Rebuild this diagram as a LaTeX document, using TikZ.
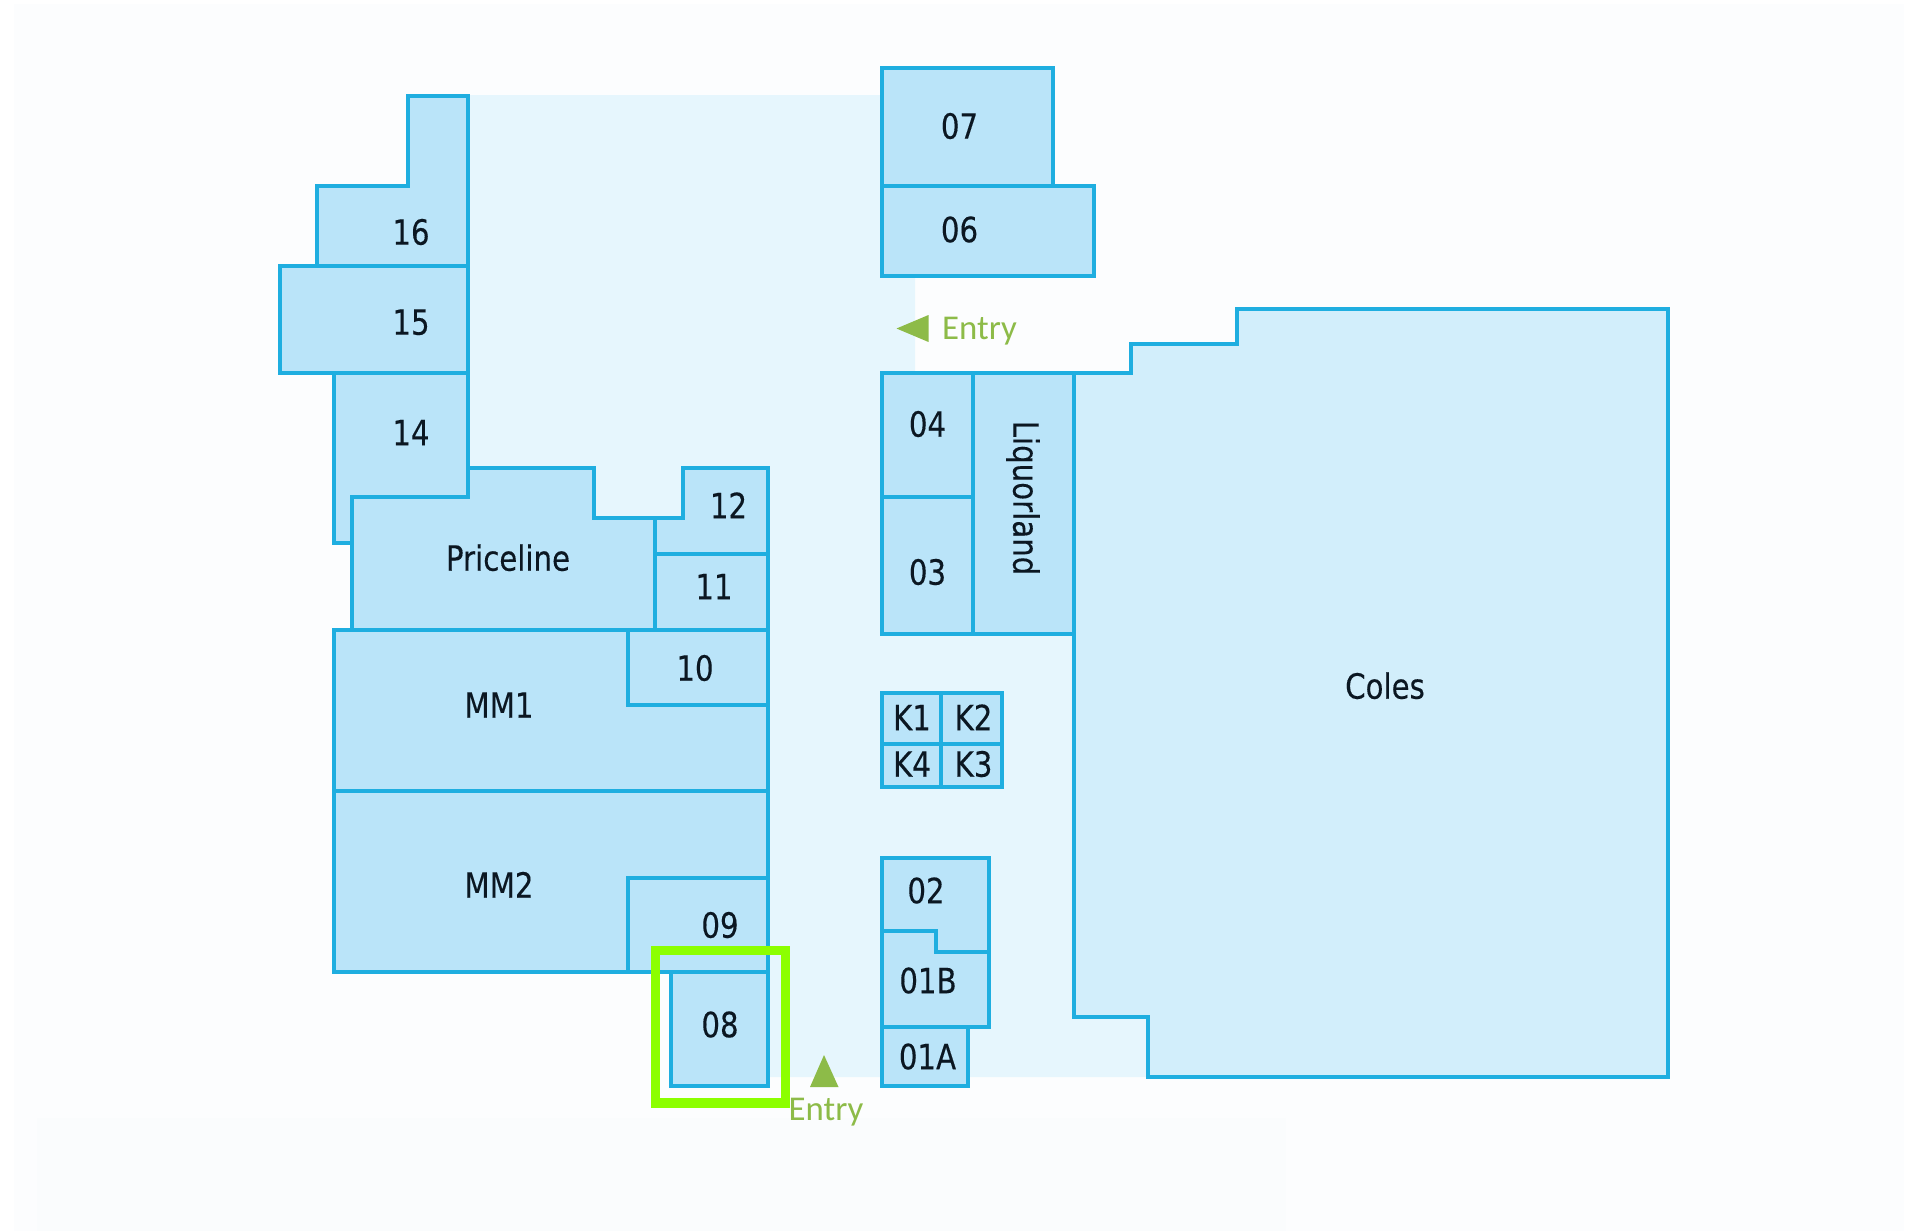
\documentclass[tikz,border=0pt]{standalone}
\usepackage{fontspec}
\setmainfont[FakeStretch=0.84,FakeBold=0.25]{DejaVu Sans}
\newfontfamily\entryfont{Carlito}
\usepackage{xcolor}
\definecolor{shopline}{HTML}{1FAEE0}
\definecolor{shopfill}{HTML}{BAE4F9}
\definecolor{colesfill}{HTML}{D2EEFB}
\definecolor{hallfill}{HTML}{E6F6FD}
\definecolor{pagefill}{HTML}{FCFDFE}
\definecolor{bandfill}{HTML}{FAFCFD}
\definecolor{entrygreen}{HTML}{8DBB48}
\definecolor{markgreen}{HTML}{8CFF00}
\definecolor{labelink}{HTML}{0B1722}

\begin{document}
\begin{tikzpicture}[x=0.5pt,y=-0.5pt,line width=2pt,line join=miter,
	shop/.style={draw=shopline,fill=shopfill},
	coles/.style={draw=shopline,fill=colesfill},
	lbl/.style={inner sep=0pt,text=labelink,text height=12.7pt,text depth=0pt,font=\fontsize{17.4}{17.4}\selectfont},
	entry/.style={inner sep=0pt,anchor=base,text=entrygreen,font=\entryfont\fontsize{17.4}{17.4}\selectfont}]
	\useasboundingbox (0,0) rectangle (1920,1231);
	\fill [white] (0,0) rectangle (1920,1231);
	\fill [pagefill] (14,4) rectangle (1904,1231);
	\fill [bandfill] (37,1118) rectangle (1286,1231);
	\fill [hallfill] (467,95) -- (881,95) -- (881,276) -- (915,276) -- (915,373) -- (1074,373) -- (1074,1017) -- (1148,1017) -- (1148,1077) -- (768,1077) -- (768,600) -- (467,600) -- cycle;

	\path [coles] (1074,373) -- (1131,373) -- (1131,344) -- (1237,344) -- (1237,309) -- (1668,309) -- (1668,1077) -- (1148,1077) -- (1148,1017) -- (1074,1017) -- cycle;

	% west side
	\path [shop] (408,96) -- (467.5,96) -- (467.5,265.5) -- (317,265.5) -- (317,185.5) -- (408,185.5) -- cycle;
	\path [shop] (279.5,265.5) rectangle (467.5,373);
	\path [shop] (334,373) -- (467.5,373) -- (467.5,497) -- (352,497) -- (352,543) -- (334,543) -- cycle;
	\path [shop] (352,497) -- (467.5,497) -- (467.5,467.5) -- (594,467.5) -- (594,518) -- (655,518) -- (655,630) -- (352,630) -- cycle;
	\path [shop] (683,467.5) -- (767.5,467.5) -- (767.5,553.5) -- (655,553.5) -- (655,518) -- (683,518) -- cycle;
	\path [shop] (655,553.5) rectangle (767.5,630);
	\path [shop] (334,630) rectangle (767.5,791);
	\path [shop] (628,630) rectangle (767.5,705);
	\path [shop] (334,791) rectangle (767.5,971.5);
	\path [shop] (628,877.5) rectangle (767.5,971.5);
	\path [shop] (671,971.5) rectangle (767.5,1086);

	% east side
	\path [shop] (881.5,68) rectangle (1053,185.5);
	\path [shop] (881.5,185.5) rectangle (1094,276);
	\path [shop] (881.5,372.5) rectangle (973,497);
	\path [shop] (881.5,497) rectangle (973,633.5);
	\path [shop] (973,372.5) rectangle (1073.5,633.5);
	\path [shop] (881.5,692.5) rectangle (941,744);
	\path [shop] (941,692.5) rectangle (1001.5,744);
	\path [shop] (881.5,744) rectangle (941,787);
	\path [shop] (941,744) rectangle (1001.5,787);
	\path [shop] (881.5,858) -- (989,858) -- (989,951.5) -- (935.5,951.5) -- (935.5,931) -- (881.5,931) -- cycle;
	\path [shop] (881.5,931) -- (935.5,931) -- (935.5,951.5) -- (989,951.5) -- (989,1027) -- (881.5,1027) -- cycle;
	\path [shop] (881.5,1027) rectangle (967.5,1086);

	\node [lbl] (s16) at (411,232) {16};
	\node [lbl] (s15) at (411,322) {15};
	\node [lbl] (s14) at (411,432.5) {14};
	\node [lbl] (priceline) at (508,558) {Priceline};
	\node [lbl] (s12) at (728.5,505.5) {12};
	\node [lbl] (s11) at (714,586.5) {11};
	\node [lbl] (s10) at (695,668) {10};
	\node [lbl] (mm1) at (499,705) {MM1};
	\node [lbl] (mm2) at (499,885) {MM2};
	\node [lbl] (s09) at (720,925) {09};
	\node [lbl] (s08) at (720,1024.5) {08};
	\node [lbl] (s07) at (959.5,126) {07};
	\node [lbl] (s06) at (959.5,229.5) {06};
	\node [lbl] (s04) at (927.5,424) {04};
	\node [lbl] (s03) at (927.5,572) {03};
	\node [lbl,rotate=-90] (liquorland) at (1026,498) {Liquorland};
	\node [lbl] (k1) at (912,717.5) {K1};
	\node [lbl] (k2) at (973.5,717.5) {K2};
	\node [lbl] (k4) at (912,764) {K4};
	\node [lbl] (k3) at (973.5,764) {K3};
	\node [lbl] (s02) at (926,890.5) {02};
	\node [lbl] (s01b) at (928,980.5) {01B};
	\node [lbl] (s01a) at (927.5,1056.5) {01A};
	\node [lbl] (coles) at (1385,686) {Coles};

	% highlight and entries
	\draw [markgreen,line width=4.8pt] (655.5,950.5) rectangle (785.5,1103);
	\fill [entrygreen] (824,1055) -- (838.5,1087) -- (810,1087) -- cycle;
	\node [entry] (entrysouth) at (826,1120) {Entry};
	\fill [entrygreen] (896.5,328.5) -- (928.5,315) -- (928.5,342) -- cycle;
	\node [entry] (entrywest) at (979.5,339) {Entry};
\end{tikzpicture}
\end{document}
